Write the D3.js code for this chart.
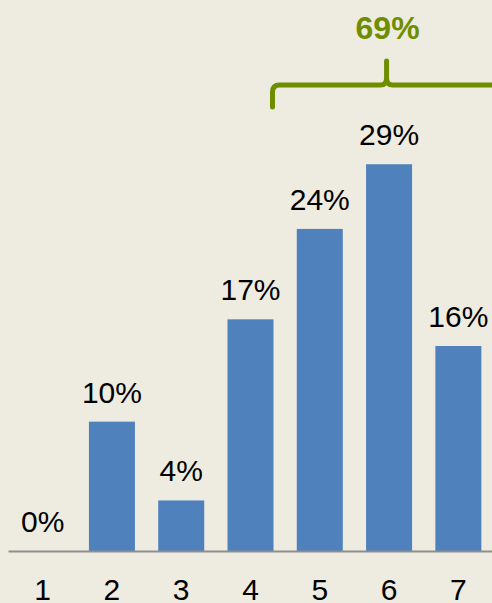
<!DOCTYPE html>
<html>
<head>
<meta charset="utf-8">
<script src="https://cdn.jsdelivr.net/npm/d3@7"></script>
<style>
  body { margin: 0; background: #EEEBE1; }
  svg { display: block; font-family: "Liberation Sans", Arial, sans-serif; }
</style>
</head>
<body>
<div id="chart"></div>
<script>
// data
var categories = ["1", "2", "3", "4", "5", "6", "7"];
var values = [0, 9.8, 3.83, 17.55, 24.4, 29.3, 15.53];
var labels = ["0%", "10%", "4%", "17%", "24%", "29%", "16%"];
var groupFrom = "4", groupTo = "7";
var groupLabel = "69%";

var width = 492, height = 603;
var baseY = 551;

var svg = d3.select("#chart")
  .append("svg")
    .attr("width", width)
    .attr("height", height);

svg.append("rect")
    .attr("width", width)
    .attr("height", height)
    .attr("fill", "#EEEBE1");

// scales
var x = d3.scaleBand()
  .domain(categories)
  .range([8, 493])
  .paddingInner(0.336)
  .paddingOuter(0.168);

var y = d3.scaleLinear()
  .domain([0, 30])
  .range([baseY, baseY - 30 * 13.2]);

// bars
svg.selectAll("rect.bar")
  .data(values)
  .enter().append("rect")
    .attr("class", "bar")
    .attr("x", function(d, i) { return x(categories[i]); })
    .attr("y", function(d) { return y(d); })
    .attr("width", x.bandwidth())
    .attr("height", function(d) { return baseY - y(d); })
    .attr("fill", "#4F81BD");

// value labels
svg.selectAll("text.val")
  .data(values)
  .enter().append("text")
    .attr("class", "val")
    .attr("x", function(d, i) { return x(categories[i]) + x.bandwidth() / 2; })
    .attr("y", function(d) { return y(d) - 19; })
    .attr("text-anchor", "middle")
    .attr("font-size", "30px")
    .attr("fill", "#000")
    .text(function(d, i) { return labels[i]; });

// x axis
var axis = svg.append("g")
  .attr("transform", "translate(0," + baseY + ")")
  .call(d3.axisBottom(x).tickSize(0).tickSizeOuter(0).tickPadding(28));
axis.select(".domain")
  .attr("stroke", "#8E8E8E")
  .attr("stroke-width", 2);
axis.selectAll("text")
  .attr("font-size", "30px")
  .attr("font-family", "Liberation Sans, Arial, sans-serif")
  .attr("fill", "#000");

// bracket over the top group
var green = "#6E8E00";
var bL = x(groupFrom) + x.bandwidth() - 1,
    bR = x(groupTo) + x.step() - 4,
    bM = (bL + bR) / 2,
    bY = 85, bBot = 107, tipY = 61, r = 7;
var bracket = d3.path();
bracket.moveTo(bL, bBot);
bracket.lineTo(bL, bY + r);
bracket.quadraticCurveTo(bL, bY, bL + r, bY);
bracket.lineTo(bM - 6, bY);
bracket.quadraticCurveTo(bM, bY, bM, bY - 7);
bracket.lineTo(bM, tipY);
bracket.moveTo(bM, bY - 7);
bracket.quadraticCurveTo(bM, bY, bM + 6, bY);
bracket.lineTo(bR - r, bY);
bracket.quadraticCurveTo(bR, bY, bR, bY + r);
bracket.lineTo(bR, bBot);

svg.append("path")
    .attr("d", bracket.toString())
    .attr("fill", "none")
    .attr("stroke", green)
    .attr("stroke-width", 5)
    .attr("stroke-linecap", "round")
    .attr("stroke-linejoin", "round");

svg.append("text")
    .attr("x", bM + 1)
    .attr("y", 39)
    .attr("text-anchor", "middle")
    .attr("font-size", "32px")
    .attr("font-weight", "bold")
    .attr("fill", green)
    .text(groupLabel);
</script>
</body>
</html>
